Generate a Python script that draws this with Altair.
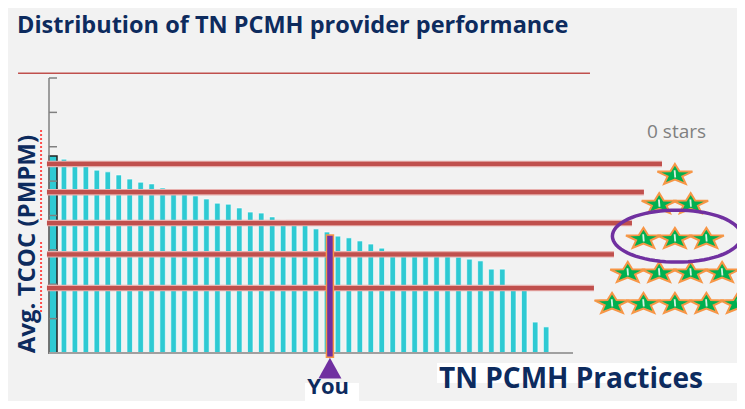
import math
import altair as alt
import pandas as pd

# ---------------- data ----------------
practice_tcoc = [573, 564, 547, 547, 532, 527, 518, 506, 497, 492, 480, 471, 465, 457, 448,
                 436, 433, 422, 410, 407, 396, 387, 378, 375, 361, 352, 340, 335, 326, 317,
                 305, 297, 288, 288, 288, 288, 285, 279, 273, 268, 244, 244, 189, 189, 90, 76]
you_tcoc = 343
you_rank = 25.27
star_thresholds = [550, 468, 378, 287, 189]
threshold_line_end = [55.57, 53.92, 52.83, 51.19, 49.36]
star_counts = [1, 2, 3, 4, 5]
star_row_tcoc = [521, 436, 335, 236, 146]
axis_ticks = [0, 100, 200, 300, 400, 500, 600, 700, 800]

title_text = "Distribution of TN PCMH provider performance"
y_title = "Avg. TCOC (PMPM)"
x_title = "TN PCMH Practices"
you_label = "You"
zero_label = "0 stars"

# ---------------- styling ----------------
NAVY = "#0d2b5e"
TEAL = "#2ecad3"
RED = "#c0504d"
PURPLE = "#7030a0"
ORANGE = "#f79646"
GREEN = "#00b050"
FONT = "Open Sans"

STAR_CENTER = 56.75
STAR_STEP = 2.87

xs = alt.Scale(domain=[-0.365, 47.45], nice=False, zero=False, padding=0)
ys = alt.Scale(domain=[0, 800], nice=False, zero=False, padding=0)


def X(f):
    return alt.X(f, type="quantitative", scale=xs, axis=None)


def Y(f):
    return alt.Y(f, type="quantitative", scale=ys, axis=None)


def X2(f):
    return alt.X2(f)


def Y2(f):
    return alt.Y2(f)


# star shape (flattened five-point star) and ellipse outline
def star_path(inner=0.42, squash=0.6):
    pts = []
    for k in range(10):
        ang = math.radians(-90 + 36 * k)
        r = 1.0 if k % 2 == 0 else inner
        pts.append((r * math.cos(ang), (r * math.sin(ang) + 0.095) * squash))
    return "M" + "L".join(f"{x:.3f},{y:.3f}" for x, y in pts) + "Z"


def ellipse_path(ry=0.403, n=72):
    pts = [(math.cos(2 * math.pi * i / n), ry * math.sin(2 * math.pi * i / n)) for i in range(n)]
    return "M" + "L".join(f"{x:.3f},{y:.3f}" for x, y in pts) + "Z"


bars = pd.DataFrame({"rank": list(range(len(practice_tcoc))), "tcoc": practice_tcoc})
first = bars.iloc[:1]
lines = pd.DataFrame({"x0": [-0.55] * 5, "x1": threshold_line_end, "tcoc": star_thresholds})
ticks = pd.DataFrame({"tcoc": axis_ticks})

star_rows = []
for cnt, yv in zip(star_counts, star_row_tcoc):
    for j in range(cnt):
        star_rows.append({"x": STAR_CENTER + (j - (cnt - 1) / 2) * STAR_STEP, "tcoc": yv, "stars": cnt})
stars = pd.DataFrame(star_rows)

you = pd.DataFrame({"rank": [you_rank], "tcoc": [you_tcoc], "base": [-12], "tri": [-44]})

# ---------------- layers ----------------
top_rule = alt.Chart(pd.DataFrame({"x0": [-3.19], "x1": [49.0], "tcoc": [814]})).mark_rule(
    color=RED, strokeWidth=1.5).encode(x=X("x0"), x2=X2("x1"), y=Y("tcoc"))

bar_layer = alt.Chart(bars).mark_bar(size=5.5, color=TEAL, stroke="white", strokeWidth=0.8,
                                     strokeOpacity=0.8).encode(x=X("rank"), y=Y("tcoc"))
first_layer = alt.Chart(first).mark_bar(size=8, color=TEAL, stroke="#222222",
                                        strokeWidth=1.5).encode(x=X("rank"), y=Y("tcoc"))

y_domain = alt.Chart(pd.DataFrame({"a": [0], "b": [800]})).mark_rule(
    color="#808080", strokeWidth=1.5).encode(x=alt.value(0), y=Y("a"), y2=Y2("b"))
tick_layer = alt.Chart(ticks).mark_rule(color="#808080", strokeWidth=1.5).encode(
    x=alt.value(0), x2=alt.value(8), y=Y("tcoc"))
x_domain = alt.Chart(pd.DataFrame({"a": [0]})).mark_rule(
    color="#a0a0a0", strokeWidth=2).encode(x=alt.value(0), x2=alt.value(524), y=Y("a"))

line_halo = alt.Chart(lines).mark_rule(color="#e8b0ae", strokeWidth=6.5).encode(
    x=X("x0"), x2=X2("x1"), y=Y("tcoc"))
line_layer = alt.Chart(lines).mark_rule(color=RED, strokeWidth=4.2).encode(
    x=X("x0"), x2=X2("x1"), y=Y("tcoc"))

you_bar = alt.Chart(you).mark_bar(size=7, color=PURPLE, stroke=ORANGE, strokeWidth=1.5).encode(
    x=X("rank"), y=Y("tcoc"), y2=Y2("base"))
you_tri = alt.Chart(you).mark_point(shape="M-1,0.9L0,-0.9L1,0.9Z", size=530, filled=True,
                                    color=PURPLE, opacity=1).encode(x=X("rank"), y=Y("tri"))

boxes = pd.DataFrame({"x0": [22.99, 35.04], "x1": [27.92, 63.0], "y0": [-87, -29], "y1": [-170, -87]})
box_layer = alt.Chart(boxes).mark_rect(color="white").encode(
    x=X("x0"), x2=X2("x1"), y=Y("y0"), y2=Y2("y1"))

you_text = alt.Chart(pd.DataFrame({"x": [25.1], "y": [-120], "t": [you_label]})).mark_text(
    font=FONT, fontWeight="bold", fontSize=22, color=NAVY, align="center", baseline="alphabetic"
).encode(x=X("x"), y=Y("y"), text="t:N")

xt_text = alt.Chart(pd.DataFrame({"x": [35.22], "y": [-101.5], "t": [x_title]})).mark_text(
    font=FONT, fontWeight="bold", fontSize=28, color=NAVY, align="left", baseline="alphabetic"
).encode(x=X("x"), y=Y("y"), text="t:N")

star_layer = alt.Chart(stars).mark_point(shape=star_path(), size=1354, filled=True, fill=GREEN,
                                         stroke=ORANGE, strokeWidth=2, opacity=1).encode(
    x=X("x"), y=Y("tcoc"))
star_hl = alt.Chart(stars).mark_point(shape="M-0.2,-0.6L0.1,-0.6L0.2,0.6L-0.1,0.6Z", size=144,
                                      filled=True, fill="white", opacity=0.85, strokeWidth=0).encode(
    x=X("x"), y=Y("tcoc"))

ellipse = alt.Chart(pd.DataFrame({"x": [56.93], "tcoc": [340]})).mark_point(
    shape=ellipse_path(), size=16641, filled=False, stroke=PURPLE, strokeWidth=3.5, opacity=1
).encode(x=X("x"), y=Y("tcoc"))

zero_text = alt.Chart(pd.DataFrame({"x": [56.9], "y": [625], "t": [zero_label]})).mark_text(
    font=FONT, fontSize=19, color="#808080", align="center", baseline="alphabetic"
).encode(x=X("x"), y=Y("y"), text="t:N")

title = alt.Chart(pd.DataFrame({"x": [-3.28], "y": [929.5], "t": [title_text]})).mark_text(
    font=FONT, fontWeight="bold", fontSize=23.5, color=NAVY, align="left", baseline="alphabetic"
).encode(x=X("x"), y=Y("y"), text="t:N")

ylab = alt.Chart(pd.DataFrame({"x": [-2.28], "y": [317], "t": [y_title]})).mark_text(
    font=FONT, fontWeight="bold", fontSize=24, color=NAVY, align="center", baseline="middle",
    angle=270).encode(x=X("x"), y=Y("y"), text="t:N")

squig = alt.Chart(pd.DataFrame({"x": [-1.09, -1.09], "a": [649, 323], "b": [387, 119]})).mark_rule(
    color="#ff4d4d", strokeWidth=2, strokeDash=[2, 2]).encode(x=X("x"), y=Y("a"), y2=Y2("b"))

chart = alt.layer(
    top_rule, bar_layer, first_layer, tick_layer, y_domain, x_domain,
    line_halo, line_layer, you_bar, you_tri, box_layer, you_text, xt_text,
    star_layer, star_hl, ellipse, zero_text, title, ylab, squig
).properties(
    width=524, height=275,
    padding={"left": 41, "top": 70, "right": 164, "bottom": 48},
    autosize=alt.AutoSizeParams(type="none"),
    background="#f2f2f2",
).configure_view(stroke=None)

chart.save("out.html", embed_options={"renderer": "svg", "actions": False})
